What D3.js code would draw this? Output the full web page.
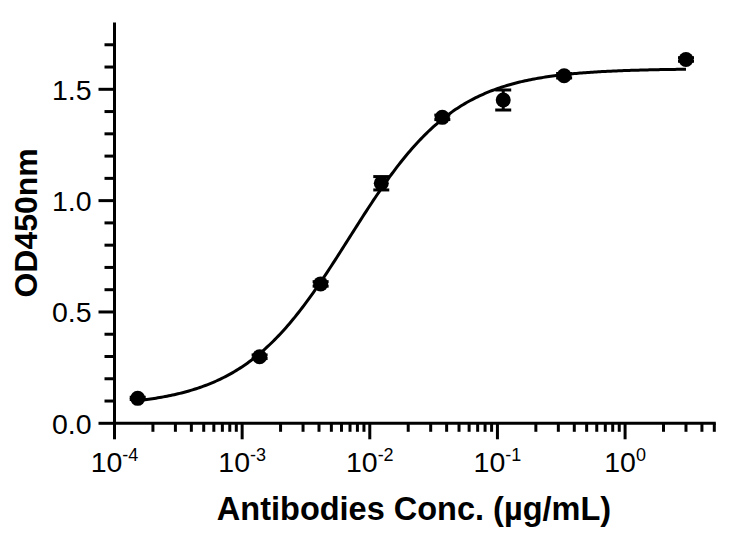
<!DOCTYPE html>
<html>
<head>
<meta charset="utf-8">
<script src="https://cdn.jsdelivr.net/npm/d3@7"></script>
<style>
  html, body { margin: 0; padding: 0; background: #fff; }
  svg { display: block; }
  text { font-family: "Liberation Sans", Arial, Helvetica, sans-serif; fill: #000; }
</style>
</head>
<body>
<svg id="chart" width="736" height="539"></svg>
<script>
// ---- data ----
const concentrations = [0.000152, 0.00137, 0.00412, 0.0123, 0.037, 0.111, 0.333, 3];
const odMeans        = [0.112, 0.299, 0.626, 1.078, 1.374, 1.452, 1.561, 1.634];
const odErrors       = [0.005, 0.008, 0.010, 0.030, 0.010, 0.045, 0.010, 0.008];
const yMajorTicks    = [0, 0.5, 1.0, 1.5];
const yTickLabels    = ["0.0", "0.5", "1.0", "1.5"];
const xMajorTicks    = [1e-4, 1e-3, 1e-2, 1e-1, 1];
const xTickExponents = ["-4", "-3", "-2", "-1", "0"];
const xTitle = "Antibodies Conc. (µg/mL)";
const yTitle = "OD450nm";

// ---- layout ----
const svg = d3.select("#chart");
const x0 = 114.5, x1 = 714.3, yBottom = 423.3, yTop = 22.5;
const x = d3.scaleLog().domain([1e-4, 5]).range([x0, x1]);
const y = d3.scaleLinear().domain([0, 1.8]).range([yBottom, yTop]);
const stroke = 3;

// ---- 4PL fit (Nelder-Mead least squares on the data) ----
function model(p, c) {
  const [bottom, top, logEC50, hill] = p;
  return bottom + (top - bottom) / (1 + Math.pow(10, (logEC50 - Math.log10(c)) * hill));
}
function sse(p) {
  let s = 0;
  for (let i = 0; i < concentrations.length; i++) {
    const r = odMeans[i] - model(p, concentrations[i]);
    s += r * r;
  }
  return s;
}
function nelderMead(f, start, step, iters) {
  const n = start.length;
  let simplex = [start.slice()];
  for (let i = 0; i < n; i++) { const p = start.slice(); p[i] += step[i]; simplex.push(p); }
  let vals = simplex.map(f);
  for (let k = 0; k < iters; k++) {
    const idx = d3.range(n + 1).sort((a, b) => vals[a] - vals[b]);
    simplex = idx.map(i => simplex[i]); vals = idx.map(i => vals[i]);
    const c = d3.range(n).map(j => d3.mean(simplex.slice(0, n), p => p[j]));
    const worst = simplex[n];
    const xr = c.map((v, j) => v + (v - worst[j]));
    const fr = f(xr);
    if (fr < vals[0]) {
      const xe = c.map((v, j) => v + 2 * (v - worst[j]));
      const fe = f(xe);
      if (fe < fr) { simplex[n] = xe; vals[n] = fe; } else { simplex[n] = xr; vals[n] = fr; }
    } else if (fr < vals[n - 1]) {
      simplex[n] = xr; vals[n] = fr;
    } else {
      const xc = c.map((v, j) => v + 0.5 * (worst[j] - v));
      const fc = f(xc);
      if (fc < vals[n]) { simplex[n] = xc; vals[n] = fc; }
      else {
        for (let i = 1; i <= n; i++) {
          simplex[i] = simplex[i].map((v, j) => simplex[0][j] + 0.5 * (v - simplex[0][j]));
          vals[i] = f(simplex[i]);
        }
      }
    }
  }
  return simplex[d3.minIndex(vals)];
}
const fit = nelderMead(sse, [0.07, 1.6, -2.2, 1.1], [0.02, 0.05, 0.2, 0.2], 3000);

// ---- axes ----
// Y axis
const gy = svg.append("g");
gy.append("line").attr("x1", x0).attr("x2", x0).attr("y1", yTop).attr("y2", yBottom)
  .attr("stroke", "#000").attr("stroke-width", stroke);
const yMinor = d3.range(1, 18).map(i => i / 10).filter(v => !yMajorTicks.some(m => Math.abs(m - v) < 1e-9));
gy.selectAll(".ymin").data(yMinor).join("line")
  .attr("x1", x0 - 10).attr("x2", x0).attr("y1", d => y(d)).attr("y2", d => y(d))
  .attr("stroke", "#000").attr("stroke-width", stroke);
gy.selectAll(".ymaj").data(yMajorTicks).join("line")
  .attr("x1", x0 - 16).attr("x2", x0).attr("y1", d => y(d)).attr("y2", d => y(d))
  .attr("stroke", "#000").attr("stroke-width", stroke);
gy.selectAll(".ylab").data(yMajorTicks).join("text")
  .attr("x", x0 - 23).attr("y", d => y(d) + 10.5)
  .attr("text-anchor", "end").attr("font-size", 28.5)
  .text((d, i) => yTickLabels[i]);

// X axis
const gx = svg.append("g");
gx.append("line").attr("x1", x0 - 1.5).attr("x2", x1 + 1.5).attr("y1", yBottom).attr("y2", yBottom)
  .attr("stroke", "#000").attr("stroke-width", stroke);
const xMinor = [];
[-4, -3, -2, -1, 0].forEach(e => { for (let m = 2; m <= 9; m++) { const v = m * Math.pow(10, e); if (v <= 5.0001) xMinor.push(v); } });
gx.selectAll(".xmin").data(xMinor).join("line")
  .attr("x1", d => x(d)).attr("x2", d => x(d)).attr("y1", yBottom).attr("y2", yBottom + 8.5)
  .attr("stroke", "#000").attr("stroke-width", stroke);
gx.selectAll(".xmaj").data(xMajorTicks).join("line")
  .attr("x1", d => x(d)).attr("x2", d => x(d)).attr("y1", yBottom).attr("y2", yBottom + 16)
  .attr("stroke", "#000").attr("stroke-width", stroke);
const xl = gx.selectAll(".xlab").data(xMajorTicks).join("text")
  .attr("x", d => x(d)).attr("y", 472)
  .attr("text-anchor", "middle").attr("font-size", 28.5);
xl.append("tspan").text("10");
xl.append("tspan").attr("font-size", 18).attr("dy", -11).text((d, i) => xTickExponents[i]);

// Titles
svg.append("text").attr("x", 414).attr("y", 520).attr("text-anchor", "middle")
  .attr("font-size", 32.5).attr("font-weight", "bold").text(xTitle);
svg.append("text").attr("transform", `translate(37,${(yTop + yBottom) / 2}) rotate(-90)`)
  .attr("text-anchor", "middle").attr("font-size", 32).attr("font-weight", "bold").text(yTitle);

// ---- fitted curve ----
const lo = Math.log10(d3.min(concentrations)), hi = Math.log10(d3.max(concentrations));
const curvePts = d3.range(0, 301).map(i => Math.pow(10, lo + (hi - lo) * i / 300));
svg.append("path")
  .datum(curvePts)
  .attr("d", d3.line().x(c => x(c)).y(c => y(model(fit, c))))
  .attr("fill", "none").attr("stroke", "#000").attr("stroke-width", stroke);

// ---- error bars ----
const pts = concentrations.map((c, i) => ({ c, v: odMeans[i], e: odErrors[i] }));
const eb = svg.append("g");
eb.selectAll(".ev").data(pts).join("line")
  .attr("x1", d => x(d.c)).attr("x2", d => x(d.c))
  .attr("y1", d => y(d.v + d.e)).attr("y2", d => y(d.v - d.e))
  .attr("stroke", "#000").attr("stroke-width", stroke);
eb.selectAll(".et").data(pts).join("line")
  .attr("x1", d => x(d.c) - 8).attr("x2", d => x(d.c) + 8)
  .attr("y1", d => y(d.v + d.e)).attr("y2", d => y(d.v + d.e))
  .attr("stroke", "#000").attr("stroke-width", stroke);
eb.selectAll(".eb").data(pts).join("line")
  .attr("x1", d => x(d.c) - 8).attr("x2", d => x(d.c) + 8)
  .attr("y1", d => y(d.v - d.e)).attr("y2", d => y(d.v - d.e))
  .attr("stroke", "#000").attr("stroke-width", stroke);

// ---- markers ----
svg.append("g").selectAll("circle").data(pts).join("circle")
  .attr("cx", d => x(d.c)).attr("cy", d => y(d.v)).attr("r", 7.5).attr("fill", "#000");
</script>
</body>
</html>
